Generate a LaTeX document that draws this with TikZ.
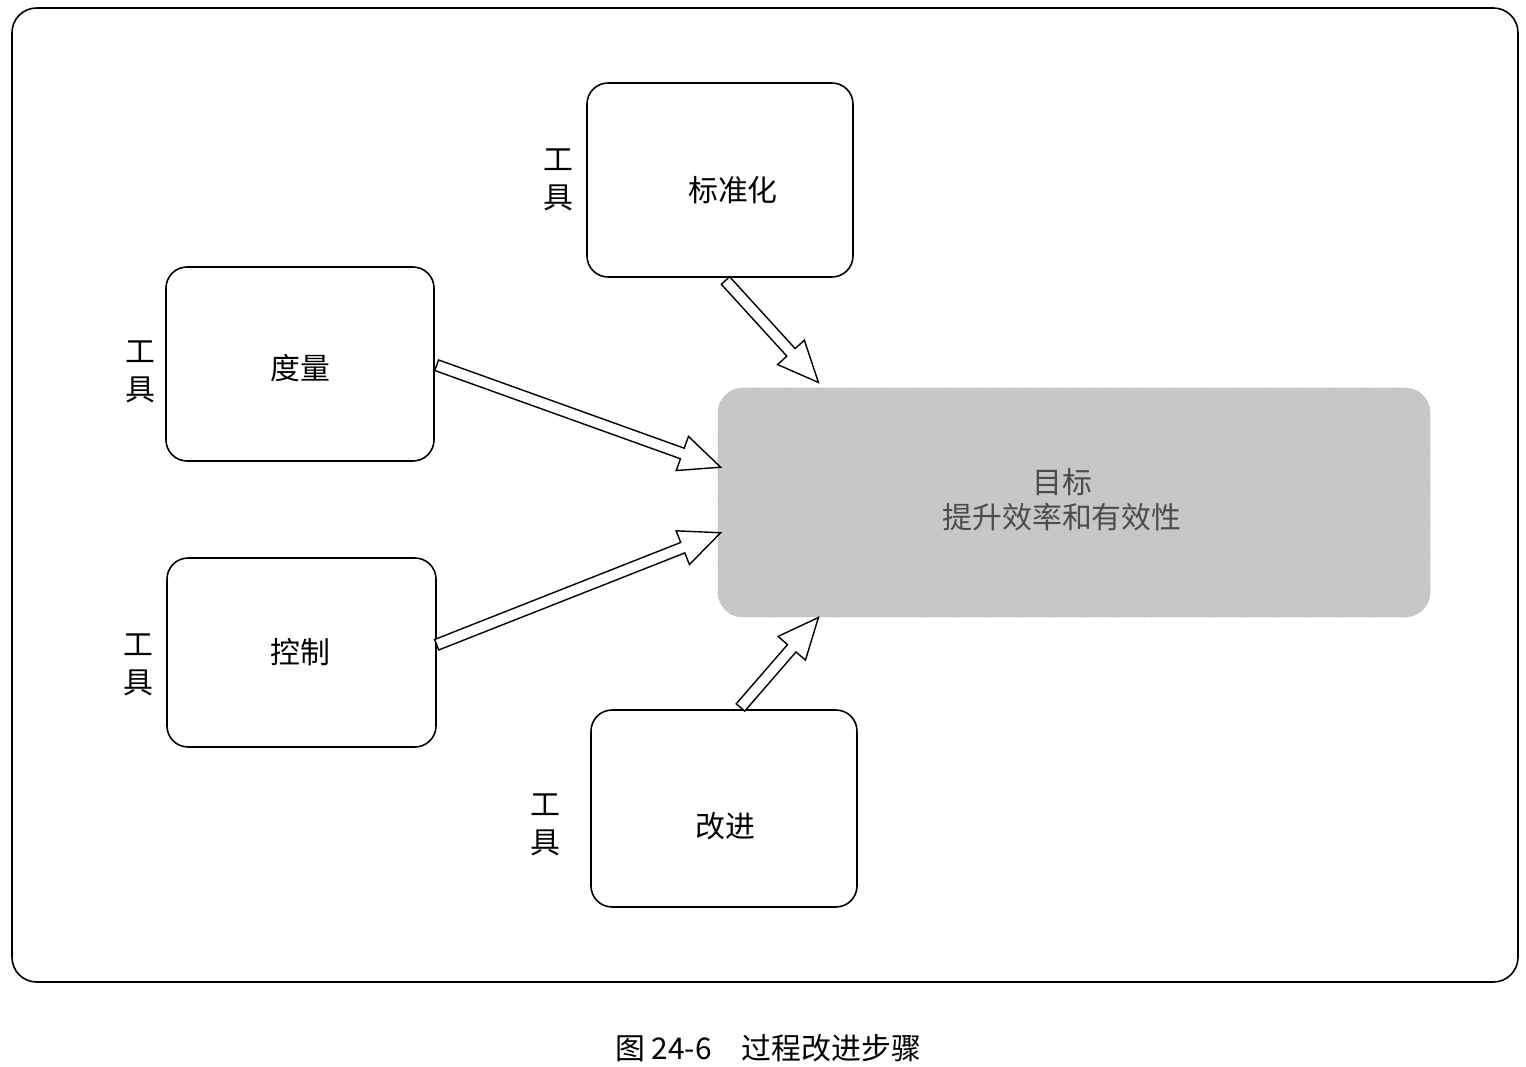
\documentclass[tikz,border=0pt]{standalone}
\usepackage{fontspec}
\setmainfont{Noto Sans CJK SC}
\usetikzlibrary{shapes.arrows,calc}
\begin{document}
\begin{tikzpicture}[x=0.02cm,y=-0.02cm,
  box/.style={draw,line width=0.9pt,rounded corners=12pt,fill=white},
  lbl/.style={font=\fontsize{17}{20}\selectfont},
  tool/.style={font=\fontsize{17}{22}\selectfont,align=center},
  harrow/.style={single arrow,draw,line width=0.8pt,fill=white,inner sep=2.8pt,minimum width=15pt,single arrow tip angle=48,anchor=tail}]
\useasboundingbox (0,0) rectangle (1526,1067);
\draw[line width=0.9pt,rounded corners=14pt] (12,8) rectangle (1518,982);
\draw[box] (587,83) rectangle (853,277); \node[lbl] (std) at (733,190) {标准化};
\draw[box] (166,267) rectangle (434,461); \node[lbl] (meas) at (300,368) {度量};
\draw[box] (167,558) rectangle (436,747); \node[lbl] (ctl) at (300,652) {控制};
\draw[box] (591,710) rectangle (857,907); \node[lbl] (imp) at (725,826) {改进};
\draw[fill=black!22,draw=black!35,densely dotted,rounded corners=14pt] (718,388) rectangle (1430,617);
\node[lbl,text=black!70,align=center] (goal) at (1062,500) {目标\\提升效率和有效性};
\node[tool] at (558,180) {工\\具};
\node[tool] at (140,372) {工\\具};
\node[tool] at (138,665) {工\\具};
\node[tool] at (545,825) {工\\具};
\coordinate (a1) at (725,280); \coordinate (b1) at (818,382);
\coordinate (a2) at (436,365); \coordinate (b2) at (720,467);
\coordinate (a3) at (436,645); \coordinate (b3) at (720,533);
\coordinate (a4) at (740,708); \coordinate (b4) at (818,618);
\foreach \s/\e in {a1/b1,a2/b2,a3/b3,a4/b4}{
  \path let \p1=($(\e)-(\s)$), \n1={atan2(\y1,\x1)}, \n2={veclen(\x1,\y1)} in
    node[harrow,minimum height=\n2,rotate=\n1] at (\s) {};
}
\node[font=\fontsize{17}{20}\selectfont] (cap) at (768,1048) {图 24-6\quad 过程改进步骤};
\end{tikzpicture}
\end{document}
